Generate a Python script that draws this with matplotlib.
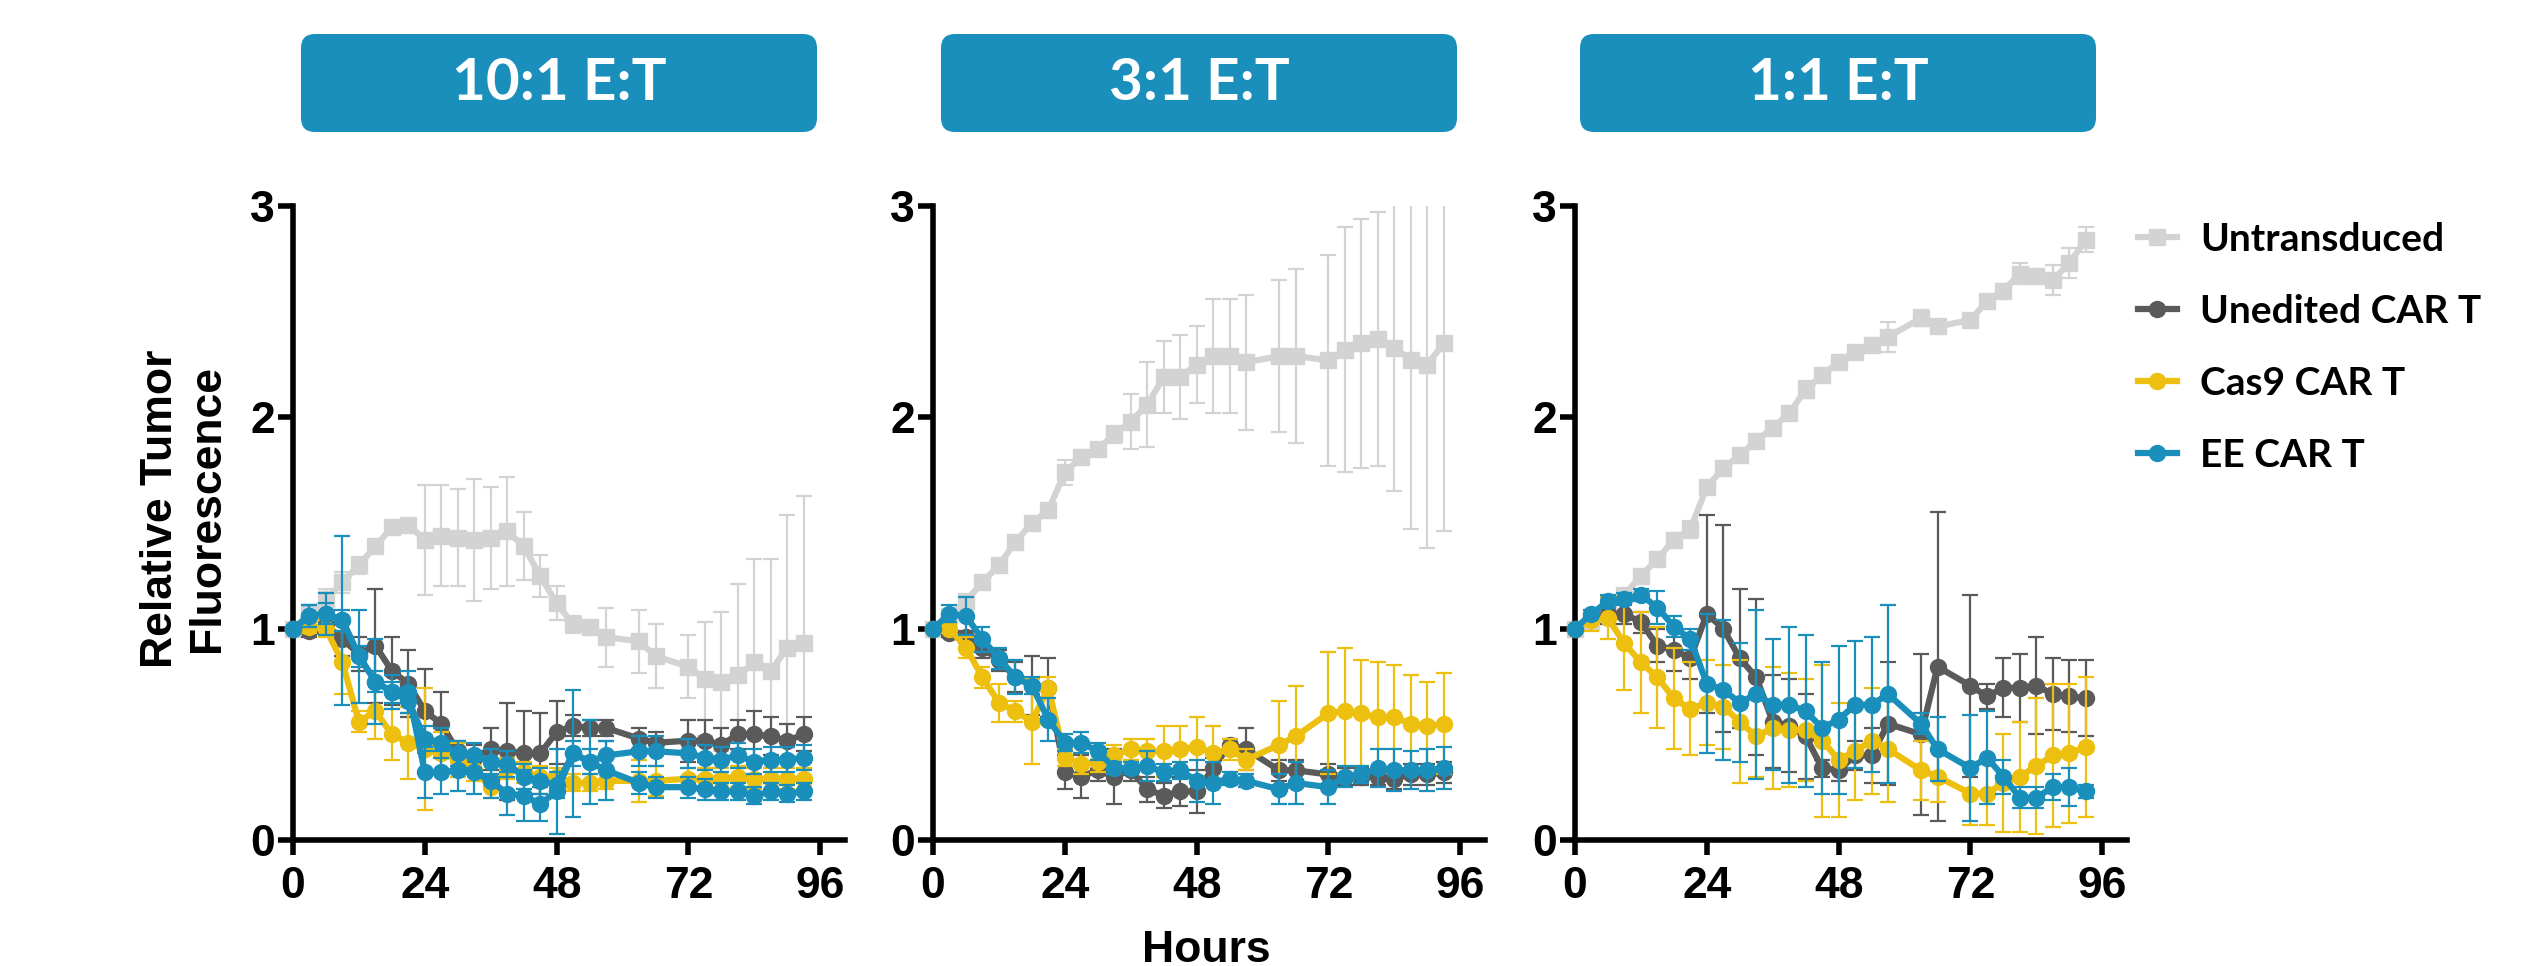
import matplotlib
matplotlib.use("Agg")
import matplotlib.pyplot as plt
from matplotlib.patches import FancyBboxPatch

# sampling times (h)
hours = [0, 3, 6, 9, 12, 15, 18, 21, 24, 27, 30, 33, 36, 39, 42, 45, 48, 51, 54, 57,
         63, 66, 72, 75, 78, 81, 84, 87, 90, 93]

groups = ["Untransduced", "Unedited CAR T", "Cas9 CAR T", "EE CAR T"]
ratios = ["10:1 E:T", "3:1 E:T", "1:1 E:T"]

# 10:1
unt_10 = [1.00, 1.07, 1.14, 1.22, 1.30, 1.39, 1.48, 1.49, 1.42, 1.44, 1.43, 1.42, 1.43, 1.46, 1.39,
          1.25, 1.12, 1.02, 1.01, 0.96, 0.94, 0.87, 0.82, 0.76, 0.75, 0.78, 0.84, 0.80, 0.91, 0.93]
unt_10_sd = [0, 0.03, 0.05, 0.05, 0.04, 0.03, 0.02, 0.02, 0.26, 0.24, 0.23, 0.29, 0.24, 0.26, 0.16,
             0.10, 0.08, 0.04, 0.02, 0.14, 0.15, 0.15, 0.15, 0.27, 0.33, 0.43, 0.49, 0.53, 0.63, 0.70]
une_10 = [1.00, 0.99, 1.02, 0.95, 0.88, 0.92, 0.80, 0.74, 0.61, 0.55, 0.42, 0.39, 0.43, 0.42, 0.41,
          0.41, 0.51, 0.54, 0.53, 0.53, 0.48, 0.46, 0.47, 0.47, 0.45, 0.50, 0.50, 0.49, 0.47, 0.50]
une_10_sd = [0, 0.03, 0.04, 0.08, 0.08, 0.27, 0.16, 0.16, 0.20, 0.15, 0.05, 0.06, 0.10, 0.23, 0.20,
             0.19, 0.15, 0.05, 0.04, 0.04, 0.05, 0.05, 0.10, 0.10, 0.08, 0.07, 0.11, 0.09, 0.08, 0.08]
cas_10 = [1.00, 1.01, 1.00, 0.84, 0.56, 0.61, 0.50, 0.46, 0.43, 0.41, 0.38, 0.33, 0.25, 0.34, 0.32,
          0.30, 0.30, 0.27, 0.27, 0.28, 0.28, 0.28, 0.29, 0.29, 0.29, 0.30, 0.29, 0.29, 0.29, 0.29]
cas_10_sd = [0, 0.03, 0.04, 0.15, 0.05, 0.13, 0.12, 0.17, 0.29, 0.10, 0.08, 0.05, 0.05, 0.05, 0.05,
             0.05, 0.04, 0.04, 0.04, 0.04, 0.10, 0.07, 0.05, 0.05, 0.05, 0.05, 0.05, 0.05, 0.05, 0.05]
ee_10 = [1.00, 1.06, 1.07, 1.04, 0.87, 0.75, 0.70, 0.70, 0.32, 0.32, 0.33, 0.32, 0.28, 0.22, 0.21,
         0.17, 0.23, 0.41, 0.37, 0.33, 0.27, 0.25, 0.25, 0.24, 0.23, 0.23, 0.21, 0.23, 0.22, 0.23]
ee_10_sd = [0, 0.05, 0.10, 0.40, 0.22, 0.20, 0.08, 0.10, 0.12, 0.10, 0.10, 0.10, 0.08, 0.10, 0.12,
            0.08, 0.20, 0.30, 0.20, 0.14, 0.05, 0.05, 0.05, 0.05, 0.04, 0.04, 0.04, 0.04, 0.04, 0.04]
# second EE trace drawn in the 10:1 panel
ee_10b = [1.00, 1.06, 1.07, 1.04, 0.87, 0.75, 0.70, 0.66, 0.48, 0.46, 0.41, 0.40, 0.37, 0.36, 0.30,
          0.28, 0.26, 0.41, 0.37, 0.40, 0.42, 0.42, 0.41, 0.39, 0.38, 0.40, 0.37, 0.38, 0.38, 0.39]
ee_10b_sd = [0, 0.05, 0.05, 0.05, 0.05, 0.05, 0.05, 0.06, 0.06, 0.07, 0.06, 0.06, 0.06, 0.06, 0.06,
             0.06, 0.06, 0.06, 0.06, 0.07, 0.07, 0.07, 0.07, 0.06, 0.06, 0.06, 0.06, 0.06, 0.06, 0.06]

# 3:1
unt_3 = [1.00, 1.06, 1.13, 1.22, 1.30, 1.41, 1.50, 1.56, 1.74, 1.81, 1.85, 1.92, 1.98, 2.06, 2.19,
         2.19, 2.25, 2.29, 2.29, 2.26, 2.29, 2.29, 2.27, 2.32, 2.35, 2.37, 2.33, 2.27, 2.25, 2.35]
unt_3_sd = [0, 0.03, 0.03, 0.03, 0.03, 0.03, 0.03, 0.03, 0.06, 0.03, 0.03, 0.04, 0.13, 0.20, 0.17,
            0.20, 0.18, 0.27, 0.27, 0.32, 0.36, 0.41, 0.50, 0.58, 0.59, 0.60, 0.68, 0.80, 0.87, 0.89]
une_3 = [1.00, 0.98, 0.96, 0.91, 0.85, 0.77, 0.73, 0.72, 0.32, 0.30, 0.33, 0.30, 0.33, 0.24, 0.21,
         0.23, 0.23, 0.34, 0.45, 0.43, 0.33, 0.33, 0.31, 0.30, 0.30, 0.30, 0.29, 0.31, 0.31, 0.32]
une_3_sd = [0, 0.02, 0.03, 0.05, 0.05, 0.07, 0.14, 0.14, 0.08, 0.10, 0.05, 0.13, 0.05, 0.06, 0.06,
            0.07, 0.10, 0.05, 0.03, 0.10, 0.05, 0.05, 0.05, 0.04, 0.04, 0.04, 0.05, 0.05, 0.05, 0.05]
cas_3 = [1.00, 1.00, 0.91, 0.77, 0.65, 0.61, 0.56, 0.72, 0.39, 0.36, 0.37, 0.40, 0.43, 0.42, 0.42,
         0.43, 0.44, 0.41, 0.43, 0.38, 0.45, 0.49, 0.60, 0.61, 0.60, 0.58, 0.58, 0.55, 0.54, 0.55]
cas_3_sd = [0, 0.02, 0.05, 0.05, 0.09, 0.05, 0.20, 0.05, 0.04, 0.05, 0.05, 0.05, 0.05, 0.06, 0.12,
            0.11, 0.14, 0.13, 0.05, 0.05, 0.21, 0.24, 0.29, 0.30, 0.25, 0.26, 0.25, 0.23, 0.21, 0.24]
ee_3 = [1.00, 1.07, 1.06, 0.95, 0.86, 0.77, 0.73, 0.57, 0.46, 0.46, 0.42, 0.34, 0.34, 0.35, 0.32,
        0.33, 0.28, 0.27, 0.29, 0.28, 0.24, 0.27, 0.25, 0.30, 0.31, 0.34, 0.33, 0.33, 0.33, 0.34]
ee_3_sd = [0, 0.04, 0.09, 0.06, 0.05, 0.08, 0.04, 0.10, 0.04, 0.05, 0.04, 0.03, 0.03, 0.07, 0.04,
           0.04, 0.10, 0.10, 0.03, 0.03, 0.07, 0.10, 0.08, 0.05, 0.04, 0.09, 0.10, 0.09, 0.10, 0.10]

# 1:1
unt_1 = [1.00, 1.03, 1.08, 1.16, 1.25, 1.33, 1.42, 1.47, 1.67, 1.76, 1.82, 1.89, 1.95, 2.02, 2.13,
         2.20, 2.26, 2.31, 2.34, 2.38, 2.47, 2.43, 2.46, 2.55, 2.60, 2.68, 2.67, 2.65, 2.73, 2.84]
unt_1_sd = [0, 0.02, 0.02, 0.02, 0.02, 0.03, 0.03, 0.04, 0.03, 0.03, 0.03, 0.02, 0.02, 0.02, 0.04,
            0.03, 0.03, 0.02, 0.02, 0.07, 0.04, 0.02, 0.03, 0.02, 0.03, 0.05, 0.02, 0.07, 0.07, 0.06]
une_1 = [1.00, 1.05, 1.07, 1.07, 1.03, 0.92, 0.90, 0.86, 1.07, 1.00, 0.86, 0.77, 0.56, 0.54, 0.49,
         0.34, 0.33, 0.40, 0.40, 0.55, 0.50, 0.82, 0.73, 0.68, 0.72, 0.72, 0.73, 0.69, 0.68, 0.67]
une_1_sd = [0, 0.02, 0.05, 0.05, 0.05, 0.08, 0.10, 0.10, 0.47, 0.49, 0.33, 0.37, 0.22, 0.22, 0.20,
            0.04, 0.05, 0.07, 0.13, 0.29, 0.38, 0.73, 0.43, 0.06, 0.14, 0.16, 0.23, 0.17, 0.17, 0.18]
cas_1 = [1.00, 1.04, 1.05, 0.93, 0.84, 0.77, 0.67, 0.62, 0.65, 0.63, 0.56, 0.49, 0.53, 0.52, 0.52,
         0.47, 0.38, 0.42, 0.47, 0.43, 0.33, 0.30, 0.22, 0.22, 0.27, 0.30, 0.35, 0.40, 0.41, 0.44]
cas_1_sd = [0, 0.05, 0.10, 0.22, 0.24, 0.24, 0.24, 0.22, 0.20, 0.20, 0.29, 0.19, 0.29, 0.27, 0.24,
            0.36, 0.27, 0.23, 0.25, 0.25, 0.14, 0.12, 0.15, 0.15, 0.23, 0.26, 0.32, 0.34, 0.33, 0.33]
ee_1 = [1.00, 1.07, 1.13, 1.14, 1.16, 1.10, 1.01, 0.95, 0.74, 0.71, 0.65, 0.69, 0.64, 0.64, 0.61,
        0.53, 0.57, 0.64, 0.64, 0.69, 0.55, 0.43, 0.34, 0.39, 0.30, 0.20, 0.20, 0.25, 0.25, 0.23]
ee_1_sd = [0, 0.02, 0.03, 0.03, 0.03, 0.08, 0.05, 0.05, 0.33, 0.33, 0.28, 0.40, 0.31, 0.37, 0.36,
           0.31, 0.35, 0.30, 0.32, 0.42, 0.05, 0.15, 0.25, 0.22, 0.08, 0.05, 0.05, 0.06, 0.09, 0.03]

colors = ["#D3D3D3", "#5A5A5A", "#EDBF0F", "#1A8FBC"]
markers = ["s", "o", "o", "o"]
header_blue = "#1A8FBC"

panel_data = [
    [(unt_10, unt_10_sd, 0), (une_10, une_10_sd, 1), (cas_10, cas_10_sd, 2),
     (ee_10b, ee_10b_sd, 3), (ee_10, ee_10_sd, 3)],
    [(unt_3, unt_3_sd, 0), (une_3, une_3_sd, 1), (cas_3, cas_3_sd, 2), (ee_3, ee_3_sd, 3)],
    [(unt_1, unt_1_sd, 0), (une_1, une_1_sd, 1), (cas_1, cas_1_sd, 2), (ee_1, ee_1_sd, 3)],
]

W, H = 2527, 966
fig = plt.figure(figsize=(W / 100, H / 100), dpi=100)

lefts = [293, 933, 1575]
ax_w, y0_px, y3_px = 552, 840, 206

axes = []
for i, left in enumerate(lefts):
    ax = fig.add_axes([left / W, (H - y0_px) / H, ax_w / W, (y0_px - y3_px) / H])
    for k, (vals, sd, g) in enumerate(panel_data[i]):
        z = 2 + k
        ax.errorbar(hours, vals, yerr=sd, fmt="none", ecolor=colors[g], elinewidth=1.6,
                    capsize=5.5, capthick=1.6, zorder=z)
        ax.plot(hours, vals, color=colors[g], lw=4.5, marker=markers[g],
                ms=11 if g == 0 else 11.5, clip_on=False, zorder=z + 0.5,
                label=groups[g] if k < 4 else None)
    ax.set_xlim(0, 100.5)
    ax.set_ylim(0, 3)
    ax.set_xticks([0, 24, 48, 72, 96])
    ax.set_yticks([0, 1, 2, 3])
    for s in ["top", "right"]:
        ax.spines[s].set_visible(False)
    for s in ["left", "bottom"]:
        ax.spines[s].set_linewidth(4)
    ax.tick_params(width=4, length=11, labelsize=32, pad=2)
    ax.tick_params(axis="x", pad=8)
    for lab in ax.get_xticklabels() + ax.get_yticklabels():
        lab.set_fontweight("bold")
        lab.set_family("Liberation Sans")
    axes.append(ax)

# header boxes in pixel space
over = fig.add_axes([0, 0, 1, 1], zorder=-1)
over.set_xlim(0, W)
over.set_ylim(H, 0)
over.axis("off")
box_x = [301, 941, 1580]
for bx, title in zip(box_x, ratios):
    over.add_patch(FancyBboxPatch((bx, 34), 516, 98, boxstyle="round,pad=0,rounding_size=14",
                                  fc=header_blue, ec="none"))
    over.text(bx + 258, 84, title, color="white", ha="center", va="center",
              fontsize=42, fontweight="bold", family="Lato")

fig.text(184 / W, (H - 509) / H, "Relative Tumor\nFluorescence", rotation=90,
         ha="center", va="center", multialignment="center",
         fontsize=32, fontweight="bold", family="Liberation Sans")
fig.text(1206 / W, 4 / H, "Hours", ha="center", va="baseline",
         fontsize=32, fontweight="bold", family="Liberation Sans")

handles, labels = axes[2].get_legend_handles_labels()
fig.legend(handles, labels, loc="upper left", bbox_to_anchor=(2138 / W, 1 - 222 / H),
           frameon=False, prop={"family": "Lato", "weight": "bold", "size": 28},
           handlelength=1.0, handletextpad=0.6, labelspacing=0.95, borderpad=0,
           borderaxespad=0)

fig.savefig("out.png", dpi=100)
